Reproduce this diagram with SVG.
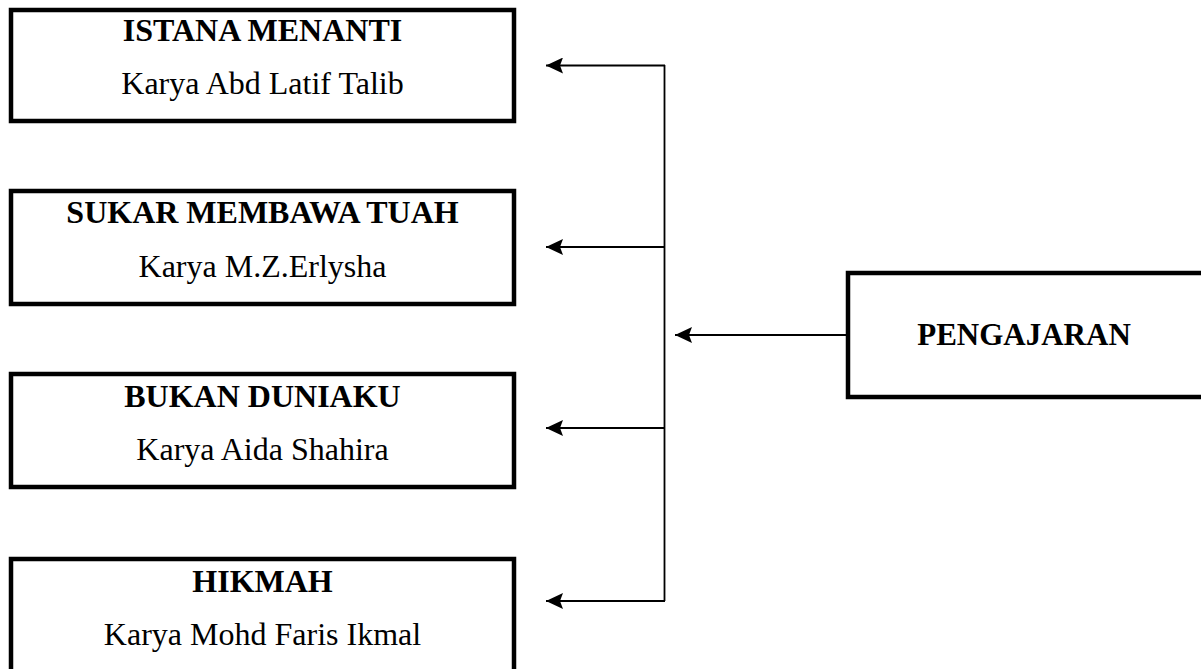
<svg xmlns="http://www.w3.org/2000/svg" width="1201" height="669" viewBox="0 0 1201 669">
<defs>
<style>
.box{fill:#fff;stroke:#000;stroke-width:4.5}
.t{font-family:"Liberation Serif","Times New Roman",serif;font-size:32px;fill:#000;text-anchor:middle}
.b{font-weight:bold}
.p{font-size:31px}
.c{fill:none;stroke:#000;stroke-width:1.8}
</style>
<marker id="ah" markerUnits="userSpaceOnUse" viewBox="0 0 17 16" refX="17" refY="8" markerWidth="17" markerHeight="16" orient="auto">
<path d="M0,0 L17,8 L0,16 L3,8 Z" fill="#000"/>
</marker>
</defs>
<rect width="1201" height="669" fill="#fff"/>
<g id="node-istana">
<rect class="box" x="11" y="10" width="503" height="111"/>
<text class="t b" x="262.5" y="41">ISTANA MENANTI</text>
<text class="t" x="262.5" y="94">Karya Abd Latif Talib</text>
</g>
<g id="node-sukar">
<rect class="box" x="11" y="191" width="503" height="113"/>
<text class="t b" x="262.5" y="223">SUKAR MEMBAWA TUAH</text>
<text class="t" x="262.5" y="277">Karya M.Z.Erlysha</text>
</g>
<g id="node-bukan">
<rect class="box" x="11" y="374" width="503" height="113"/>
<text class="t b" x="262.5" y="407">BUKAN DUNIAKU</text>
<text class="t" x="262.5" y="460">Karya Aida Shahira</text>
</g>
<g id="node-hikmah">
<rect class="box" x="11" y="559" width="503" height="130"/>
<text class="t b" x="262.5" y="592">HIKMAH</text>
<text class="t" x="262.5" y="645">Karya Mohd Faris Ikmal</text>
</g>
<g id="node-pengajaran">
<rect class="box" x="848" y="273" width="380" height="124"/>
<text class="t b p" x="1024" y="345">PENGAJARAN</text>
</g>
<g id="connectors">
<line class="c" x1="664.5" y1="65" x2="664.5" y2="601"/>
<line class="c" x1="665" y1="65.5" x2="546" y2="65.5" marker-end="url(#ah)"/>
<line class="c" x1="665" y1="247" x2="546" y2="247" marker-end="url(#ah)"/>
<line class="c" x1="665" y1="428" x2="546" y2="428" marker-end="url(#ah)"/>
<line class="c" x1="665" y1="601" x2="546" y2="601" marker-end="url(#ah)"/>
<line class="c" x1="848" y1="335" x2="675" y2="335" marker-end="url(#ah)"/>
</g>
</svg>
